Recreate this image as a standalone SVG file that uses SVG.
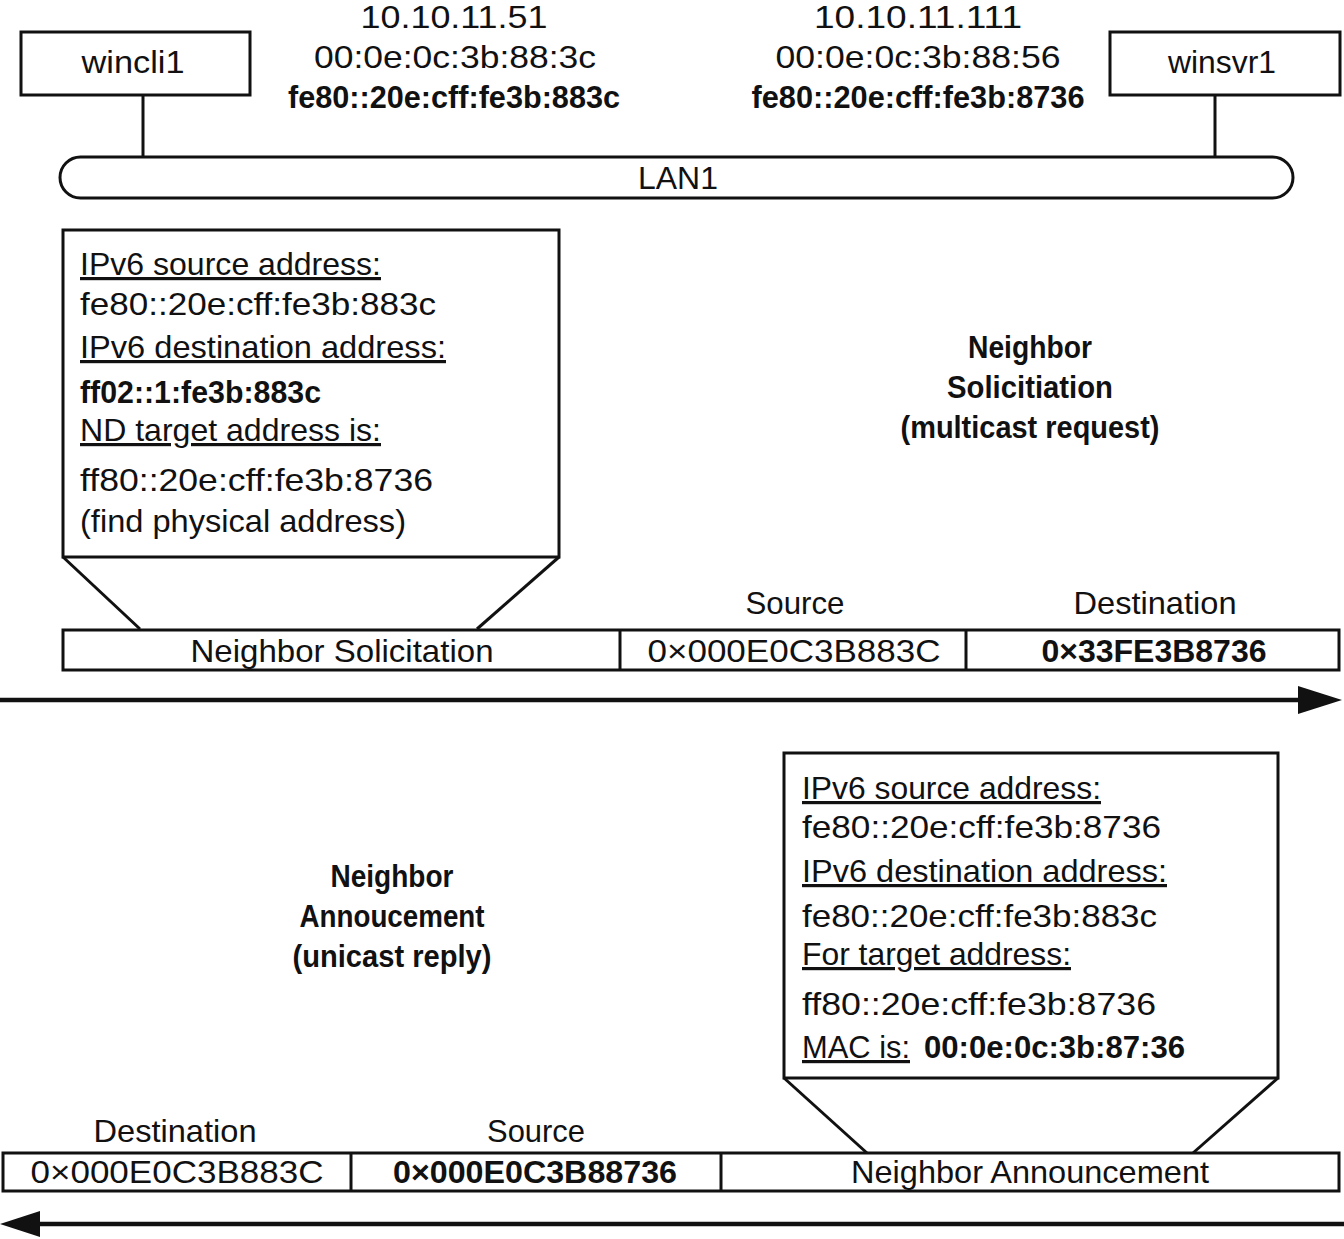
<svg xmlns="http://www.w3.org/2000/svg" width="1344" height="1239" viewBox="0 0 1344 1239">
<style>
text{font-family:"Liberation Sans",Arial,sans-serif;font-size:32px;fill:#111}
.b{font-weight:bold}
.m{text-anchor:middle}
.u{text-decoration:underline;text-underline-offset:6px;text-decoration-skip-ink:none}
.box{fill:#fff;stroke:#111;stroke-width:3}
.ln{fill:none;stroke:#111;stroke-width:3}
.arr{fill:none;stroke:#111;stroke-width:4.5}
</style>
<rect width="1344" height="1239" fill="#fff"/>
<g id="connectors">
<line class="ln" x1="143" y1="95" x2="143" y2="157"/>
<line class="ln" x1="1215" y1="95" x2="1215" y2="157"/>
<polyline class="ln" points="63,557 140,629"/>
<polyline class="ln" points="559,557 477,629"/>
<polyline class="ln" points="784,1078 867,1153"/>
<polyline class="ln" points="1278,1078 1193,1153"/>
<line class="arr" x1="0" y1="700" x2="1302" y2="700"/>
<polygon points="1298,686 1342,700 1298,714" fill="#111"/>
<line class="arr" x1="40" y1="1224" x2="1344" y2="1224"/>
<polygon points="40,1211 0,1224 40,1237" fill="#111"/>
</g>
<g id="wincli1">
<rect class="box" x="21" y="32" width="229" height="63"/>
<text class="m" x="133" y="73" textLength="103" lengthAdjust="spacingAndGlyphs">wincli1</text>
</g>
<g id="winsvr1">
<rect class="box" x="1110" y="32" width="230" height="63"/>
<text class="m" x="1222" y="73" textLength="108" lengthAdjust="spacingAndGlyphs">winsvr1</text>
</g>
<g id="addr-left">
<text class="m" x="454" y="28" textLength="187" lengthAdjust="spacingAndGlyphs">10.10.11.51</text>
<text class="m" x="455" y="68" textLength="282" lengthAdjust="spacingAndGlyphs">00:0e:0c:3b:88:3c</text>
<text class="m b" x="454" y="108" textLength="332" lengthAdjust="spacingAndGlyphs">fe80::20e:cff:fe3b:883c</text>
</g>
<g id="addr-right">
<text class="m" x="918" y="28" textLength="208" lengthAdjust="spacingAndGlyphs">10.10.11.111</text>
<text class="m" x="918" y="68" textLength="285" lengthAdjust="spacingAndGlyphs">00:0e:0c:3b:88:56</text>
<text class="m b" x="918" y="108" textLength="333" lengthAdjust="spacingAndGlyphs">fe80::20e:cff:fe3b:8736</text>
</g>
<g id="lan1">
<rect class="box" x="60" y="157" width="1233" height="41" rx="20.5" ry="20.5"/>
<text class="m" x="678" y="189" textLength="80" lengthAdjust="spacingAndGlyphs">LAN1</text>
</g>
<g id="callout-solicitation">
<rect class="box" x="63" y="230" width="496" height="327"/>
<text class="u" x="80" y="275" textLength="301" lengthAdjust="spacingAndGlyphs">IPv6 source address:</text>
<text x="80" y="315" textLength="356" lengthAdjust="spacingAndGlyphs">fe80::20e:cff:fe3b:883c</text>
<text class="u" x="80" y="358" textLength="366" lengthAdjust="spacingAndGlyphs">IPv6 destination address:</text>
<text class="b" x="80" y="403" textLength="241" lengthAdjust="spacingAndGlyphs">ff02::1:fe3b:883c</text>
<text class="u" x="80" y="441" textLength="301" lengthAdjust="spacingAndGlyphs">ND target address is:</text>
<text x="80" y="491" textLength="353" lengthAdjust="spacingAndGlyphs">ff80::20e:cff:fe3b:8736</text>
<text x="80" y="532" textLength="326" lengthAdjust="spacingAndGlyphs">(find physical address)</text>
</g>
<g id="label-solicitation">
<text class="m b" x="1030" y="358" textLength="124" lengthAdjust="spacingAndGlyphs">Neighbor</text>
<text class="m b" x="1030" y="398" textLength="166" lengthAdjust="spacingAndGlyphs">Solicitiation</text>
<text class="m b" x="1030" y="438" textLength="259" lengthAdjust="spacingAndGlyphs">(multicast request)</text>
</g>
<g id="frame-solicitation">
<text class="m" x="795" y="614" textLength="99" lengthAdjust="spacingAndGlyphs">Source</text>
<text class="m" x="1155" y="614" textLength="163" lengthAdjust="spacingAndGlyphs">Destination</text>
<rect class="box" x="63" y="630" width="1276" height="40"/>
<line class="ln" x1="620" y1="630" x2="620" y2="670"/>
<line class="ln" x1="966" y1="630" x2="966" y2="670"/>
<text class="m" x="342" y="662" textLength="303" lengthAdjust="spacingAndGlyphs">Neighbor Solicitation</text>
<text class="m" x="794" y="662" textLength="293" lengthAdjust="spacingAndGlyphs">0×000E0C3B883C</text>
<text class="m b" x="1154" y="662" textLength="225" lengthAdjust="spacingAndGlyphs">0×33FE3B8736</text>
</g>
<g id="label-announcement">
<text class="m b" x="392" y="887" textLength="123" lengthAdjust="spacingAndGlyphs">Neighbor</text>
<text class="m b" x="392" y="927" textLength="185" lengthAdjust="spacingAndGlyphs">Annoucement</text>
<text class="m b" x="392" y="967" textLength="199" lengthAdjust="spacingAndGlyphs">(unicast reply)</text>
</g>
<g id="callout-announcement">
<rect class="box" x="784" y="753" width="494" height="325"/>
<text class="u" x="802" y="799" textLength="299" lengthAdjust="spacingAndGlyphs">IPv6 source address:</text>
<text x="802" y="838" textLength="359" lengthAdjust="spacingAndGlyphs">fe80::20e:cff:fe3b:8736</text>
<text class="u" x="802" y="882" textLength="365" lengthAdjust="spacingAndGlyphs">IPv6 destination address:</text>
<text x="802" y="927" textLength="355" lengthAdjust="spacingAndGlyphs">fe80::20e:cff:fe3b:883c</text>
<text class="u" x="802" y="965" textLength="269" lengthAdjust="spacingAndGlyphs">For target address:</text>
<text x="802" y="1015" textLength="354" lengthAdjust="spacingAndGlyphs">ff80::20e:cff:fe3b:8736</text>
<text class="u" x="802" y="1058" textLength="108" lengthAdjust="spacingAndGlyphs">MAC is:</text>
<text class="b" x="924" y="1058" textLength="261" lengthAdjust="spacingAndGlyphs">00:0e:0c:3b:87:36</text>
</g>
<g id="frame-announcement">
<text class="m" x="175" y="1142" textLength="163" lengthAdjust="spacingAndGlyphs">Destination</text>
<text class="m" x="536" y="1142" textLength="98" lengthAdjust="spacingAndGlyphs">Source</text>
<rect class="box" x="3" y="1153" width="1336" height="38"/>
<line class="ln" x1="351" y1="1153" x2="351" y2="1191"/>
<line class="ln" x1="721" y1="1153" x2="721" y2="1191"/>
<text class="m" x="177" y="1183" textLength="293" lengthAdjust="spacingAndGlyphs">0×000E0C3B883C</text>
<text class="m b" x="535" y="1183" textLength="284" lengthAdjust="spacingAndGlyphs">0×000E0C3B88736</text>
<text class="m" x="1030" y="1183" textLength="358" lengthAdjust="spacingAndGlyphs">Neighbor Announcement</text>
</g>
</svg>
